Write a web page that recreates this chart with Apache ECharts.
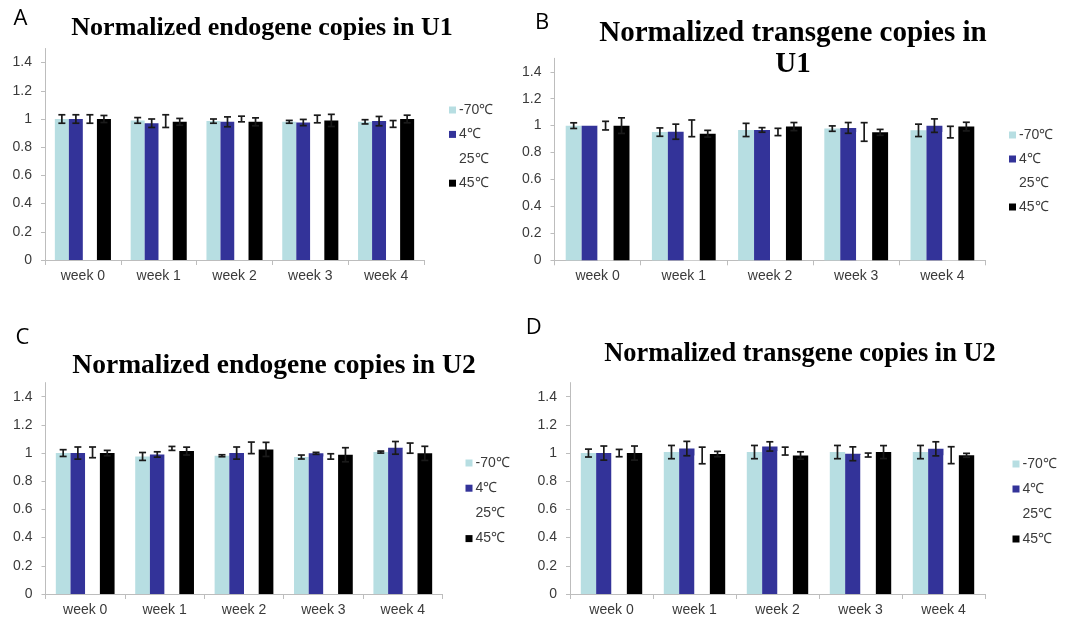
<!DOCTYPE html>
<html><head><meta charset="utf-8">
<script src="https://cdn.jsdelivr.net/npm/echarts@6/dist/echarts.min.js"></script>
<style>html,body{margin:0;padding:0;background:#fff}#c{width:1066px;height:619px}</style>
</head><body><div id="c"></div>
<script>
// ---------------- data ----------------
const weeks = ['week 0', 'week 1', 'week 2', 'week 3', 'week 4'];
const tempNames = ['-70℃', '4℃', '25℃', '45℃'];
const yTicks = [0, 0.2, 0.4, 0.6, 0.8, 1, 1.2, 1.4];

// Panel A: Normalized endogene copies in U1 (rows: -70, 4, 25, 45 ℃)
const panelA_means = [
  [1.00, 0.99, 0.985, 0.98, 0.98],
  [1.00, 0.97, 0.98, 0.975, 0.985],
  [1.00, 0.985, 1.00, 1.00, 0.965],
  [1.00, 0.98, 0.98, 0.99, 1.00]
];
const panelA_errs = [
  [0.03, 0.02, 0.015, 0.01, 0.015],
  [0.03, 0.03, 0.035, 0.022, 0.033],
  [0.03, 0.045, 0.02, 0.027, 0.024],
  [0.025, 0.024, 0.028, 0.043, 0.027]
];
// Panel B: Normalized transgene copies in U1
const panelB_means = [
  [1.00, 0.952, 0.968, 0.978, 0.965],
  [1.00, 0.955, 0.968, 0.983, 1.00],
  [1.00, 0.98, 0.953, 0.953, 0.952],
  [1.00, 0.94, 0.993, 0.95, 0.993]
];
const panelB_errs = [
  [0.021, 0.031, 0.049, 0.02, 0.046],
  [0, 0.056, 0.017, 0.04, 0.05],
  [0.032, 0.062, 0.027, 0.069, 0.043],
  [0.058, 0.025, 0.03, 0.022, 0.032]
];
// Panel C: Normalized endogene copies in U2
const panelC_means = [
  [1.00, 0.976, 0.981, 0.972, 1.007],
  [1.00, 0.99, 1.00, 0.998, 1.037],
  [1.005, 1.033, 1.037, 0.976, 1.035],
  [1.00, 1.014, 1.026, 0.988, 0.998]
];
const panelC_errs = [
  [0.024, 0.028, 0.007, 0.014, 0.007],
  [0.043, 0.019, 0.043, 0.007, 0.045],
  [0.038, 0.014, 0.041, 0.019, 0.036],
  [0.019, 0.028, 0.05, 0.05, 0.05]
];
// Panel D: Normalized transgene copies in U2
const panelD_means = [
  [1.00, 1.007, 1.007, 1.007, 1.007],
  [1.00, 1.032, 1.047, 0.995, 1.03],
  [1.00, 0.983, 1.014, 0.986, 0.985],
  [1.00, 0.993, 0.983, 1.007, 0.984]
];
const panelD_errs = [
  [0.028, 0.047, 0.047, 0.047, 0.047],
  [0.05, 0.051, 0.033, 0.049, 0.05],
  [0.026, 0.059, 0.028, 0.014, 0.06],
  [0.05, 0.019, 0.026, 0.046, 0.014]
];

// ---------------- styles / layout ----------------
const tempColors = ['#B7DEE2', '#333399', '#FFFFFF', '#000000'];
const axisGray = '#BDBDBD';
const labelColor = '#3a3a3a';
const GAP = 0.26;

const panels = [
  { letter: 'A', title: 'Normalized endogene copies in U1', means: panelA_means, errs: panelA_errs,
    grid: { left: 45, top: 48.5, width: 379, height: 211.5 },
    legend: { left: 449, top: 102, pitch: 24.4 },
    titlePos: [262, 28], titleSize: 26, letterPos: [20.5, 19] },
  { letter: 'B', title: 'Normalized transgene copies in\nU1', means: panelB_means, errs: panelB_errs,
    grid: { left: 554.5, top: 58.3, width: 431, height: 202 },
    legend: { left: 1009, top: 127, pitch: 24 },
    titlePos: [793, 49], titleSize: 29, letterPos: [542, 22.5] },
  { letter: 'C', title: 'Normalized endogene copies in U2', means: panelC_means, errs: panelC_errs,
    grid: { left: 45.5, top: 382.6, width: 397, height: 211.4 },
    legend: { left: 465.5, top: 455, pitch: 25.2 },
    titlePos: [274, 366], titleSize: 27.5, letterPos: [22.4, 338] },
  { letter: 'D', title: 'Normalized transgene copies in U2', means: panelD_means, errs: panelD_errs,
    grid: { left: 570, top: 382.6, width: 415, height: 211.4 },
    legend: { left: 1012.5, top: 456, pitch: 25 },
    titlePos: [800, 354], titleSize: 26.4, letterPos: [533.7, 327.5] }
];

function makeErrRender(k) {
  return function (params, api) {
    const lo = api.value(1), hi = api.value(2);
    if (hi - lo < 1e-9) return;
    const band = api.size([1, 0])[0];
    const group = band * (1 - GAP);
    const bw = group / 4;
    const b = api.coord([api.value(0), lo]);
    const t = api.coord([api.value(0), hi]);
    const x = b[0] - group / 2 + (k + 0.5) * bw;
    const cw = 3.5;
    const style = { stroke: '#1a1a1a', lineWidth: 1.7 };
    return { type: 'group', children: [
      { type: 'line', shape: { x1: x, y1: b[1], x2: x, y2: t[1] }, style },
      { type: 'line', shape: { x1: x - cw, y1: b[1], x2: x + cw, y2: b[1] }, style },
      { type: 'line', shape: { x1: x - cw, y1: t[1], x2: x + cw, y2: t[1] }, style }
    ] };
  };
}

const grids = [], xAxes = [], yAxes = [], series = [], legends = [], graphics = [];
panels.forEach((p, gi) => {
  grids.push(Object.assign({ containLabel: false }, p.grid));
  xAxes.push({
    type: 'category', gridIndex: gi, data: weeks, boundaryGap: true,
    axisLine: { lineStyle: { color: axisGray, width: 1 } },
    axisTick: { show: true, alignWithLabel: false, length: 5, lineStyle: { color: axisGray } },
    axisLabel: { interval: 0, margin: 9, color: labelColor, fontSize: 14, fontFamily: 'Liberation Sans, Arial, sans-serif' },
    splitLine: { show: false }
  });
  yAxes.push({
    type: 'value', gridIndex: gi, min: 0, max: 1.5, interval: 0.1,
    axisLine: { show: true, lineStyle: { color: axisGray, width: 1 } },
    axisTick: { show: true, length: 4, lineStyle: { color: axisGray }, customValues: yTicks },
    axisLabel: { margin: 13, color: labelColor, fontSize: 14, fontFamily: 'Liberation Sans, Arial, sans-serif',
                 customValues: yTicks },
    splitLine: { show: false }
  });
  tempNames.forEach((nm, k) => {
    series.push({
      type: 'bar', name: nm, xAxisIndex: gi, yAxisIndex: gi,
      data: p.means[k], barGap: '0%', barCategoryGap: (GAP * 100) + '%',
      itemStyle: { color: tempColors[k] }, z: 2
    });
  });
  tempNames.forEach((nm, k) => {
    series.push({
      type: 'custom', name: 'err' + gi + '_' + k, xAxisIndex: gi, yAxisIndex: gi,
      renderItem: makeErrRender(k),
      data: p.means[k].map((m, i) => [i, m - p.errs[k][i], m + p.errs[k][i]]),
      encode: { x: 0, y: [1, 2] }, z: 5, silent: true
    });
  });
  legends.push({
    orient: 'vertical', left: p.legend.left, top: p.legend.top, padding: 0,
    itemWidth: 7, itemHeight: 7, itemGap: p.legend.pitch - 16, icon: 'rect',
    data: tempNames.map(n => ({ name: n, icon: 'rect' })),
    textStyle: { fontSize: 14, lineHeight: 16, color: labelColor, padding: [0, 0, 0, -2],
                 fontFamily: 'Liberation Sans, Arial, sans-serif' },
    selectedMode: false
  });
  graphics.push({
    type: 'text', x: p.titlePos[0], y: p.titlePos[1],
    style: { text: p.title, fill: '#000', font: 'bold ' + p.titleSize + 'px "Liberation Serif", "Times New Roman", serif',
             textAlign: 'center', textVerticalAlign: 'middle', lineHeight: 31 }
  });
  graphics.push({
    type: 'text', x: p.letterPos[0], y: p.letterPos[1],
    style: { text: p.letter, fill: '#000', font: '22px "Open Sans", "Liberation Sans", sans-serif',
             textAlign: 'center', textVerticalAlign: 'middle' }
  });
});

const chart = echarts.init(document.getElementById('c'), null, { renderer: 'canvas' });
chart.setOption({
  animation: false,
  backgroundColor: '#ffffff',
  grid: grids, xAxis: xAxes, yAxis: yAxes, series: series, legend: legends,
  graphic: { elements: graphics }
});
</script></body></html>
